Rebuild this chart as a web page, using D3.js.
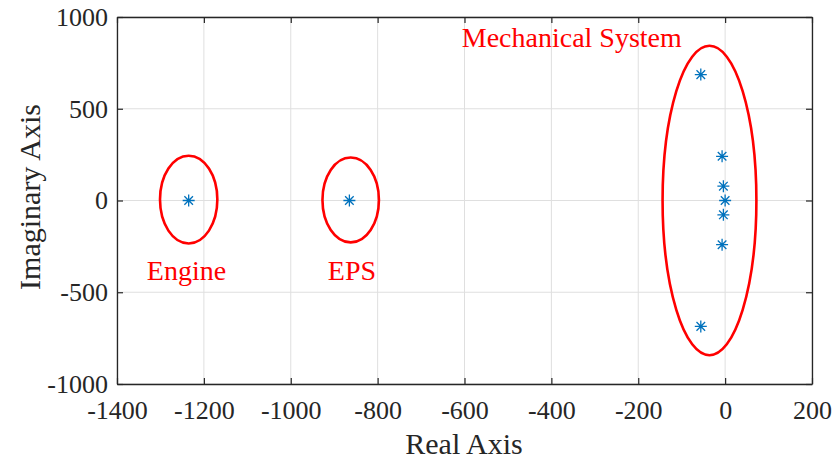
<!DOCTYPE html>
<html>
<head>
<meta charset="utf-8">
<script src="https://cdn.jsdelivr.net/npm/d3@7"></script>
<style>
body { margin: 0; background: #fff; }
text { font-family: "Liberation Serif", "Times New Roman", serif; }
</style>
</head>
<body>
<script>
// pole locations (real, imaginary)
var poleRe = [-1235, -865, -56, -56, -7, -7, -4, -4, 0];
var poleIm = [0, 0, 686, -686, 241, -241, 78, -78, 0];

// groups circled in red: centre, radii (data units) and label
var groupNames = ["Engine", "EPS", "Mechanical System"];
var groupCx = [-1235, -862, -36];
var groupCy = [5, 3, 0];
var groupRx = [66, 65, 108];
var groupRy = [239, 231, 843];
var labelX = [-1240, -859, -353];
var labelY = [-435, -435, 835];

var xTicks = [-1400, -1200, -1000, -800, -600, -400, -200, 0, 200];
var yTicks = [-1000, -500, 0, 500, 1000];

var width = 834, height = 461;
var padL = 117, padR = 812, padT = 17, padB = 384;

var svg = d3.select("body").append("svg")
    .attr("width", width)
    .attr("height", height);

var x = d3.scaleLinear().domain([-1400, 200]).range([padL, padR]);
var y = d3.scaleLinear().domain([-1000, 1000]).range([padB, padT]);

//grid
svg.selectAll(".gx").data(xTicks).enter().append("line")
    .attr("x1", d => x(d)).attr("x2", d => x(d))
    .attr("y1", padT).attr("y2", padB)
    .attr("stroke", "#dfdfdf").attr("stroke-width", 1);
svg.selectAll(".gy").data(yTicks).enter().append("line")
    .attr("x1", padL).attr("x2", padR)
    .attr("y1", d => y(d)).attr("y2", d => y(d))
    .attr("stroke", "#dfdfdf").attr("stroke-width", 1);

//axes with inward ticks
function styleAxis(g){
    g.select(".domain").attr("stroke", "#262626").attr("stroke-width", 1.3);
    g.selectAll(".tick line").attr("stroke", "#262626").attr("stroke-width", 1.2);
    g.selectAll(".tick text")
        .attr("fill", "#262626")
        .style("font-size", "26px")
        .style("font-family", "'Liberation Serif', serif");
}
var fmt = d => String(d);
var xAxis = svg.append("g").attr("transform", "translate(0," + padB + ")")
    .call(d3.axisBottom(x).tickValues(xTicks).tickSize(-6).tickSizeOuter(0).tickPadding(17).tickFormat(fmt));
styleAxis(xAxis);
var xTop = svg.append("g").attr("transform", "translate(0," + padT + ")")
    .call(d3.axisTop(x).tickValues(xTicks).tickSize(-6).tickSizeOuter(0).tickFormat(""));
styleAxis(xTop);
var yAxis = svg.append("g").attr("transform", "translate(" + padL + ",0)")
    .call(d3.axisLeft(y).tickValues(yTicks).tickSize(-6).tickSizeOuter(0).tickPadding(9).tickFormat(fmt));
styleAxis(yAxis);
var yRight = svg.append("g").attr("transform", "translate(" + padR + ",0)")
    .call(d3.axisRight(y).tickValues(yTicks).tickSize(-6).tickSizeOuter(0).tickFormat(""));
styleAxis(yRight);

//axis titles
svg.append("text")
    .attr("x", 464).attr("y", 454)
    .attr("text-anchor", "middle")
    .attr("fill", "#262626")
    .style("font-size", "30px")
    .text("Real Axis");
svg.append("text")
    .attr("transform", "translate(40,197) rotate(-90)")
    .attr("text-anchor", "middle")
    .attr("fill", "#262626")
    .style("font-size", "30px")
    .text("Imaginary Axis");

//red ellipses around groups
svg.selectAll(".grp").data(groupNames).enter().append("ellipse")
    .attr("cx", (d, i) => x(groupCx[i]))
    .attr("cy", (d, i) => y(groupCy[i]))
    .attr("rx", (d, i) => x(groupCx[i] + groupRx[i]) - x(groupCx[i]))
    .attr("ry", (d, i) => y(0) - y(groupRy[i]))
    .attr("fill", "none")
    .attr("stroke", "#ff0000")
    .attr("stroke-width", 2.6);

svg.selectAll(".lbl").data(groupNames).enter().append("text")
    .attr("x", (d, i) => x(labelX[i]))
    .attr("y", (d, i) => y(labelY[i]))
    .attr("text-anchor", "middle")
    .attr("fill", "#ff0000")
    .style("font-size", "28px")
    .text(d => d);

//asterisk markers
var s = 6, sd = 4.3;
var star = "M" + (-s) + ",0L" + s + ",0M0," + (-s) + "L0," + s +
    "M" + (-sd) + "," + (-sd) + "L" + sd + "," + sd +
    "M" + (-sd) + "," + sd + "L" + sd + "," + (-sd);
svg.selectAll(".pole").data(poleRe).enter().append("path")
    .attr("transform", (d, i) => "translate(" + x(d) + "," + y(poleIm[i]) + ")")
    .attr("d", star)
    .attr("fill", "none")
    .attr("stroke", "#0072BD")
    .attr("stroke-width", 1.3);
</script>
</body>
</html>
